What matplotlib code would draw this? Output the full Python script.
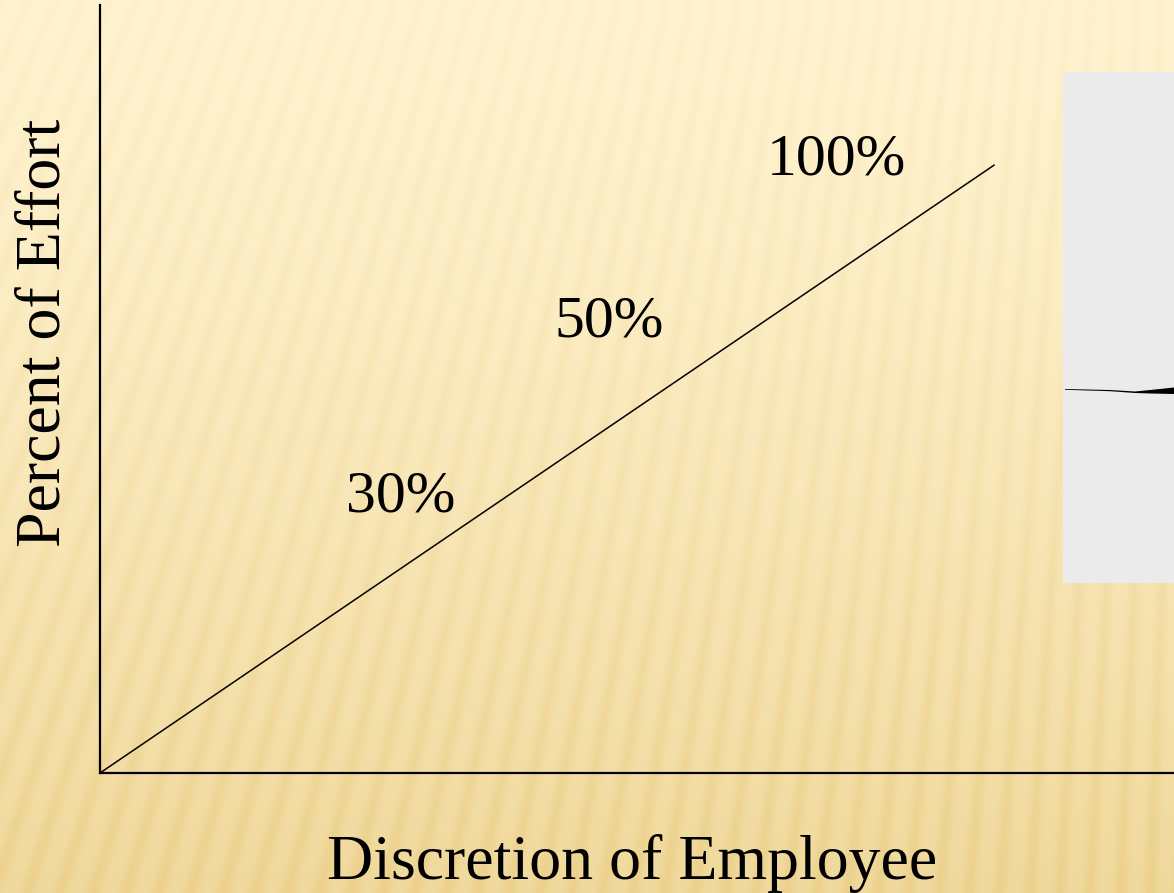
import numpy as np
import matplotlib
matplotlib.use('Agg')
import matplotlib.pyplot as plt
from matplotlib.patches import Rectangle, Polygon

plt.rcParams['font.family'] = ['Liberation Serif', 'DejaVu Serif']

W, H = 1174, 893

# chart content
line_x = [0.0, 8.33]
line_y = [0.0, 7.92]
labels = ['30%', '50%', '100%']
label_x = [2.80, 4.74, 6.86]
label_y = [3.40, 5.68, 7.79]
xlabel = 'Discretion of Employee'
ylabel = 'Percent of Effort'

fig = plt.figure(figsize=(W / 100, H / 100), dpi=100)

# background: cream to gold gradient with soft fan stripes
yy, xx = np.mgrid[0:H, 0:W].astype(float)
t = (yy / H) ** 1.3
top = np.array([255, 243, 208]) / 255.
bot = np.array([240, 217, 156]) / 255.
base = top[None, None, :] * (1 - t[..., None]) + bot[None, None, :] * t[..., None]
cx, cy = 1300.0, -3000.0
ang = np.arctan2(xx - cx, yy - cy)
phase = ang * 3500.0 / 27.0 * 2 * np.pi
s = (0.5 + 0.5 * np.cos(phase)) ** 2
amp = 0.025 + 0.035 * t
dark = np.array([0.25, 0.55, 1.0])
img = base - (amp * s)[..., None] * dark[None, None, :]
img = np.clip(img, 0, 1)

bg = fig.add_axes([0, 0, 1, 1])
bg.imshow(img, aspect='auto', extent=[0, W, H, 0], interpolation='bilinear')
bg.set_xlim(0, W)
bg.set_ylim(H, 0)
bg.axis('off')

# grey box at the right edge with a black sliver
bg.add_patch(Rectangle((1063, 72), W - 1063, 511, color='#ebebeb', lw=0))
sliver = [(1065, 389), (1110, 390), (1135, 391.5), (1160, 389), (1174, 387.5),
          (1174, 394), (1150, 393.5), (1135, 393), (1110, 391.2), (1065, 389.8)]
bg.add_patch(Polygon(sliver, closed=True, color='black', lw=0))

ax = fig.add_axes([100 / W, (H - 773) / H, (W - 100) / W, 768 / H])
ax.patch.set_alpha(0)
ax.set_xlim(0, 10)
ax.set_ylim(0, 10)
for side in ['top', 'right']:
    ax.spines[side].set_visible(False)
for side in ['left', 'bottom']:
    ax.spines[side].set_linewidth(1.6)
    ax.spines[side].set_color('black')
ax.set_xticks([])
ax.set_yticks([])

ax.plot(line_x, line_y, color='black', lw=1.1, solid_capstyle='butt')
for lab, x, y in zip(labels, label_x, label_y):
    ax.text(x, y, lab, fontsize=43, ha='center', va='baseline', color='black')

fig.text(632 / W, (H - 879) / H, xlabel, fontsize=46, ha='center', va='baseline')
fig.text(15 / W, 1 - 333 / H, ylabel, fontsize=46, rotation=90, ha='left', va='center')

fig.savefig('out.png', dpi=100)
